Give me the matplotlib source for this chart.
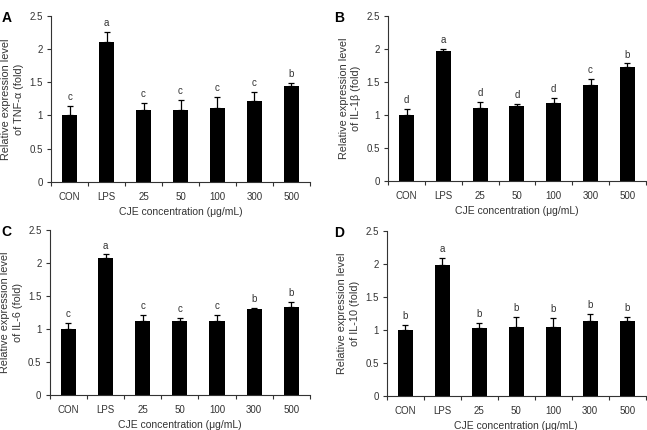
import numpy as np
import matplotlib.pyplot as plt

plt.rcParams['font.family'] = ['Liberation Sans', 'DejaVu Sans']

categories = ['CON', 'LPS', '25', '50', '100', '300', '500']

tnf_mean = [1.00, 2.11, 1.09, 1.08, 1.11, 1.22, 1.44]
tnf_err = [0.14, 0.15, 0.10, 0.15, 0.17, 0.13, 0.05]
tnf_letters = ['c', 'a', 'c', 'c', 'c', 'c', 'b']

il1b_mean = [1.00, 1.97, 1.11, 1.14, 1.18, 1.46, 1.73]
il1b_err = [0.09, 0.03, 0.08, 0.02, 0.08, 0.08, 0.05]
il1b_letters = ['d', 'a', 'd', 'd', 'd', 'c', 'b']

il6_mean = [1.00, 2.08, 1.13, 1.12, 1.13, 1.31, 1.34]
il6_err = [0.09, 0.05, 0.08, 0.05, 0.09, 0.01, 0.07]
il6_letters = ['c', 'a', 'c', 'c', 'c', 'b', 'b']

il10_mean = [1.00, 1.99, 1.03, 1.04, 1.05, 1.14, 1.13]
il10_err = [0.07, 0.10, 0.07, 0.16, 0.13, 0.10, 0.06]
il10_letters = ['b', 'a', 'b', 'b', 'b', 'b', 'b']

yticks = [0, 0.5, 1, 1.5, 2, 2.5]
ytick_labels = ['0', '0.5', '1', '1.5', '2', '2.5']

grey = '#333333'


def draw_panel(ax, mean, err, letters, ylabel, tag, tag_x):
    x = np.arange(len(categories))
    ax.bar(x, mean, width=0.41, color='black', zorder=2)
    ax.errorbar(x, mean, yerr=[np.zeros(len(err)), err], fmt='none',
                ecolor='black', elinewidth=0.9, capsize=2.5, capthick=0.9, zorder=3)
    for xi, m, e, l in zip(x, mean, err, letters):
        ax.text(xi, m + e + 0.06, l, ha='center', va='bottom', fontsize=7, color=grey)
    ax.set_xlim(-0.5, len(categories) - 0.5)
    ax.set_ylim(0, 2.5)
    ax.set_yticks(yticks)
    ax.set_yticklabels(ytick_labels)
    ax.set_xticks(x)
    ax.set_xticklabels(categories)
    ax.set_xticks(np.arange(-0.5, len(categories)), minor=True)
    ax.tick_params(axis='x', which='major', length=0, pad=7, labelsize=7, labelcolor=grey)
    ax.tick_params(axis='x', which='minor', length=3, direction='out', color=grey, width=0.8)
    ax.tick_params(axis='y', length=3, direction='out', color=grey, width=0.8,
                   labelsize=7, labelcolor=grey, pad=3)
    for s in ['top', 'right']:
        ax.spines[s].set_visible(False)
    for s in ['left', 'bottom']:
        ax.spines[s].set_color(grey)
        ax.spines[s].set_linewidth(0.8)
    ax.set_xlabel('CJE concentration (\u03bcg/mL)', fontsize=7.5, color=grey, labelpad=4)
    ax.set_ylabel(ylabel, fontsize=7.8, color=grey, labelpad=4, linespacing=1.3)
    ax.text(tag_x, 0.99, tag, transform=ax.transAxes, fontsize=10, fontweight='bold',
            ha='left', va='center')


fig = plt.figure(figsize=(6.47, 4.30), dpi=100)
ax_a = fig.add_axes([0.079, 0.577, 0.400, 0.386])
ax_b = fig.add_axes([0.600, 0.579, 0.398, 0.384])
ax_c = fig.add_axes([0.077, 0.081, 0.402, 0.384])
ax_d = fig.add_axes([0.598, 0.079, 0.400, 0.384])

draw_panel(ax_a, tnf_mean, tnf_err, tnf_letters, 'Relative expression level\nof TNF-\u03b1 (fold)', 'A', -0.192)
draw_panel(ax_b, il1b_mean, il1b_err, il1b_letters, 'Relative expression level\nof IL-1\u03b2 (fold)', 'B', -0.21)
draw_panel(ax_c, il6_mean, il6_err, il6_letters, 'Relative expression level\nof IL-6 (fold)', 'C', -0.188)
draw_panel(ax_d, il10_mean, il10_err, il10_letters, 'Relative expression level\nof IL-10 (fold)', 'D', -0.205)

fig.savefig('out.png', dpi=100)
